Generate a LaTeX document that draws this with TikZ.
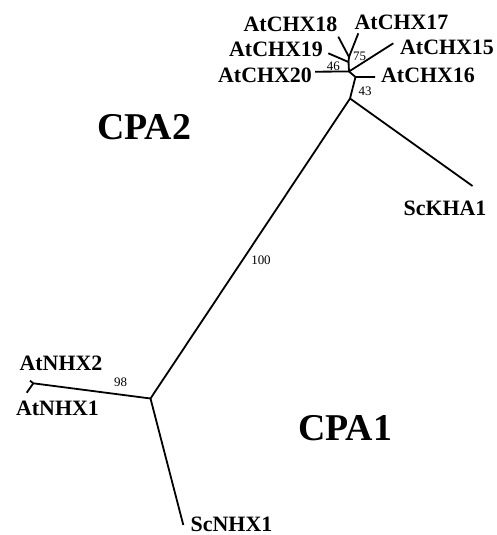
\documentclass[tikz,border=0pt]{standalone}
\usepackage{fontspec}
\setmainfont{Liberation Serif}
\begin{document}
\begin{tikzpicture}[x=1bp,y=-1bp,
  branch/.style={line width=1.8bp},
  taxon/.style={inner sep=0pt,font=\fontsize{22}{22}\selectfont\bfseries},
  clade/.style={inner sep=0pt,font=\fontsize{38}{38}\selectfont\bfseries},
  boot/.style={inner sep=0pt,font=\fontsize{13}{13}\selectfont}]

\useasboundingbox (0,0) rectangle (497,535);

% inner nodes of the tree
\coordinate (e) at (349,57);
\coordinate (f) at (348.5,62);
\coordinate (g) at (349,71.5);
\coordinate (h) at (355.5,77);
\coordinate (i) at (350,98.5);
\coordinate (c) at (150.5,398.5);
\coordinate (j) at (33.3,383.3);

% ends of the leaves
\coordinate (l18) at (338.3,36.7);
\coordinate (l17) at (358.3,33.3);
\coordinate (l19) at (328.3,53.3);
\coordinate (l20) at (315,71.7);
\coordinate (l15) at (393.3,43.3);
\coordinate (l16) at (375,77);
\coordinate (lkha) at (472.5,186);
\coordinate (lnhx) at (183.3,525);
\coordinate (ln2) at (30,380.7);
\coordinate (ln1) at (26.7,392.7);

\draw[branch] (l18) -- (e) -- (l17);
\draw[branch] (e) -- (f) -- (l19);
\draw[branch] (f) -- (g) -- (l20);
\draw[branch] (g) -- (l15);
\draw[branch] (g) -- (h) -- (l16);
\draw[branch] (h) -- (i) -- (lkha);
\draw[branch] (i) -- (c) -- (lnhx);
\draw[branch] (c) -- (j) -- (ln2);
\draw[branch] (j) -- (ln1);

\node[taxon] (chx18) at (290.5,24) {AtCHX18};
\node[taxon] (chx17) at (401.5,22.5) {AtCHX17};
\node[taxon] (chx19) at (276,49) {AtCHX19};
\node[taxon] (chx15) at (447,47.5) {AtCHX15};
\node[taxon] (chx20) at (265,75.7) {AtCHX20};
\node[taxon] (chx16) at (428,75.7) {AtCHX16};
\node[taxon] (kha1) at (445,208) {ScKHA1};
\node[taxon] (nhx2) at (61,363) {AtNHX2};
\node[taxon] (nhx1) at (57.5,408) {AtNHX1};
\node[taxon] (scnhx1) at (231.5,524) {ScNHX1};

\node[clade] (cpa2) at (144,127) {CPA2};
\node[clade] (cpa1) at (345,428) {CPA1};

\node[boot] (b75) at (359.5,56.5) {75};
\node[boot] (b46) at (333.3,66.3) {46};
\node[boot] (b43) at (365,91.3) {43};
\node[boot] (b98) at (120.5,382.3) {98};
\node[boot] (b100) at (261,260) {100};

\end{tikzpicture}
\end{document}
